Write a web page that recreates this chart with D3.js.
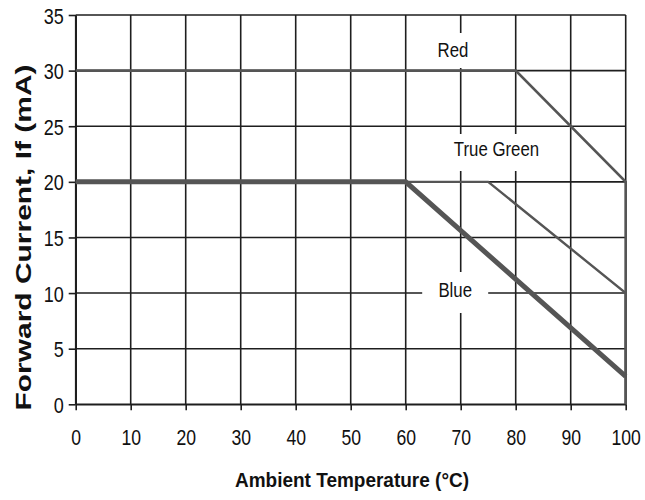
<!DOCTYPE html>
<html><head><meta charset="utf-8">
<script src="https://cdn.jsdelivr.net/npm/d3@7"></script>
<style>
html,body{margin:0;padding:0;background:#fff;}
svg{display:block;font-family:"Liberation Sans",Arial,sans-serif;}
</style></head>
<body>
<svg id="chart" width="645" height="500"></svg>
<script>
// ---- data ----
const xTicks = [0,10,20,30,40,50,60,70,80,90,100];
const yTicks = [0,5,10,15,20,25,30,35];
const seriesNames = ["Red","True Green","Blue"];
const redTemp   = [0, 80, 100, 100];
const redIf     = [30, 30, 20, 0];
const greenTemp = [0, 75, 100, 100];
const greenIf   = [20, 20, 10, 0];
const blueTemp  = [0, 60, 100];
const blueIf    = [20, 20, 2.5];
const labelTemp = [68.6, 76.5, 69];
const labelIf   = [31.2, 22.3, 9.65];

// ---- layout ----
const svg = d3.select("#chart");
const x = d3.scaleLinear().domain([0,100]).range([75.7,625.7]);
const y = d3.scaleLinear().domain([0,35]).range([404.3,15]);
const gridColor = "#1e1e1e";
const lineColor = "#555";

function condense(sel, f){
  sel.each(function(){
    const w = this.getComputedTextLength();
    d3.select(this).attr("textLength", w*f).attr("lengthAdjust","spacingAndGlyphs");
  });
}

// gridlines
svg.append("g").selectAll("line").data(xTicks).join("line")
  .attr("x1", d=>x(d)).attr("x2", d=>x(d)).attr("y1", y(35)).attr("y2", y(0))
  .attr("stroke", gridColor).attr("stroke-width", 1.6);
svg.append("g").selectAll("line").data(yTicks).join("line")
  .attr("x1", x(0)).attr("x2", x(100)).attr("y1", d=>y(d)).attr("y2", d=>y(d))
  .attr("stroke", gridColor).attr("stroke-width", 1.6);

// axes (ticks + labels)
const xAxis = svg.append("g").attr("transform", `translate(0,${y(0)})`)
  .call(d3.axisBottom(x).tickValues(xTicks).tickSize(6).tickSizeOuter(0).tickPadding(18));
const yAxis = svg.append("g").attr("transform", `translate(${x(0)},0)`)
  .call(d3.axisLeft(y).tickValues(yTicks).tickSize(7).tickSizeOuter(0).tickPadding(6));
[xAxis, yAxis].forEach(g=>{
  g.select(".domain").attr("stroke", gridColor).attr("stroke-width", 1.6);
  g.selectAll(".tick line").attr("stroke", gridColor).attr("stroke-width", 1.6);
  g.selectAll(".tick text").attr("fill","#111").attr("font-size", 22)
    .attr("font-family","'Liberation Sans',Arial,sans-serif");
});
const fx = 0.8, fy = 0.82;
xAxis.selectAll(".tick text").attr("dy", null).attr("y", 41).attr("x", 0)
  .attr("transform", `scale(${fx},1)`);
yAxis.selectAll(".tick text").attr("dy", null).attr("y", 8).attr("x", -12/fy)
  .attr("transform", `scale(${fy},1)`);

// label backgrounds + labels
const boxes = [
  {w:52, top:33, bot:68},
  {w:104, top:134, bot:171},
  {w:66, top:272, bot:313}
];
const labels = svg.append("g").selectAll("g").data(seriesNames).join("g");
labels.append("rect")
  .attr("x", (d,i)=>x(labelTemp[i]) - boxes[i].w/2)
  .attr("width", (d,i)=>boxes[i].w)
  .attr("y", (d,i)=>boxes[i].top)
  .attr("height", (d,i)=>boxes[i].bot - boxes[i].top)
  .attr("fill", "#fff");
const labelText = labels.append("text")
  .attr("x", (d,i)=>x(labelTemp[i])).attr("y", (d,i)=>y(labelIf[i]))
  .attr("text-anchor","middle").attr("font-size", 20).attr("fill","#111")
  .text(d=>d);
condense(labelText, 0.84);

// series
const line = d3.line().x(d=>x(d[0])).y(d=>y(d[1]));
const series = [
  {t:redTemp, v:redIf, w:2.6},
  {t:greenTemp, v:greenIf, w:2.4},
  {t:blueTemp, v:blueIf, w:5}
];
svg.append("g").selectAll("path").data(series).join("path")
  .attr("d", s=>line(s.t.map((t,i)=>[t, s.v[i]])))
  .attr("fill","none").attr("stroke", lineColor)
  .attr("stroke-width", s=>s.w).attr("stroke-linejoin","miter");

// axis titles
const yt = svg.append("text")
  .attr("transform", "translate(30.5,237.5) rotate(-90)")
  .attr("text-anchor","middle").attr("font-size", 22).attr("font-weight","bold")
  .attr("fill","#111").text("Forward Current, If (mA)");
yt.attr("textLength", 346).attr("lengthAdjust","spacingAndGlyphs");
const xt = svg.append("text")
  .attr("x", 352).attr("y", 486.5)
  .attr("text-anchor","middle").attr("font-size", 21).attr("font-weight","bold")
  .attr("fill","#111").text("Ambient Temperature (°C)");
xt.attr("textLength", 234).attr("lengthAdjust","spacingAndGlyphs");
</script>
</body></html>
